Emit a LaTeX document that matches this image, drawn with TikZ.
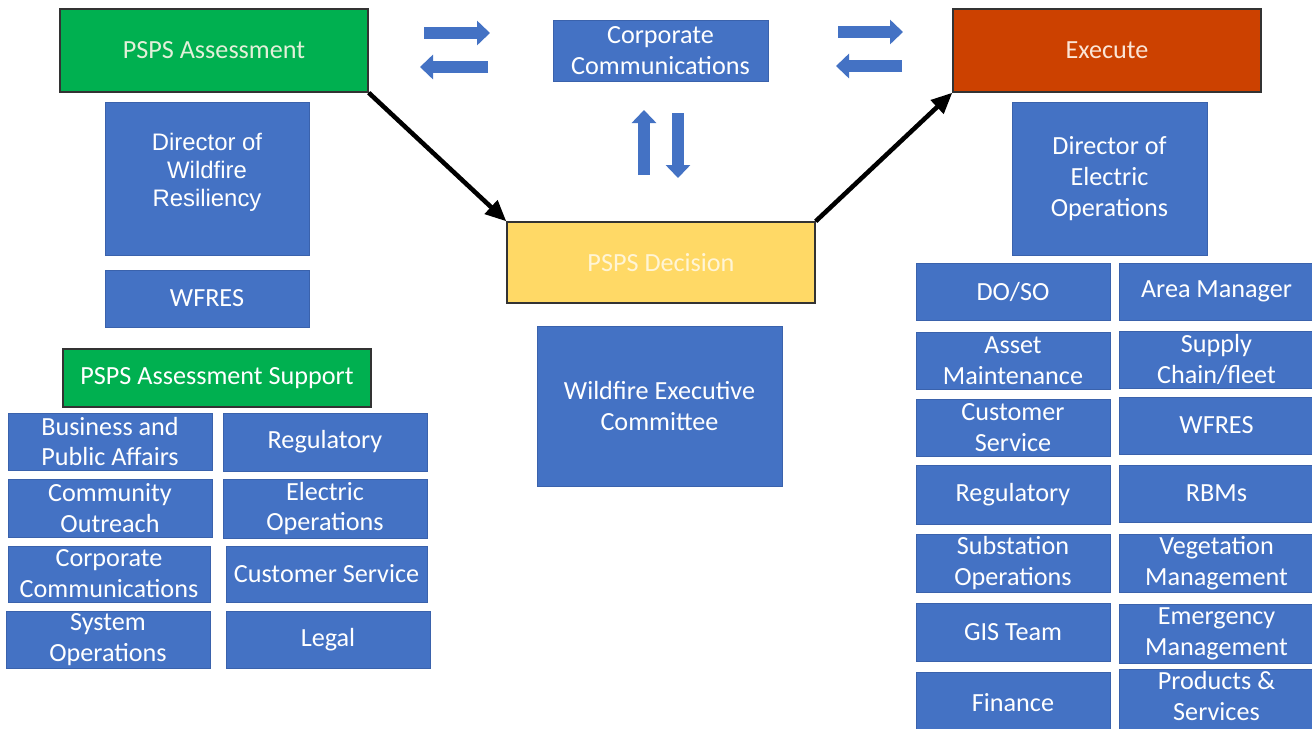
\documentclass[tikz,border=0pt]{standalone}
\usepackage{fontspec}
\setmainfont{Carlito}
\newfontfamily\arialfont{Liberation Sans}
\usetikzlibrary{arrows.meta}
\definecolor{boxblue}{HTML}{4472C4}
\definecolor{boxline}{HTML}{3A62AC}
\definecolor{assessgreen}{HTML}{00B050}
\definecolor{assesstext}{HTML}{E2F0D9}
\definecolor{decideyellow}{HTML}{FFD966}
\definecolor{decidetext}{HTML}{FFF5D6}
\definecolor{executered}{HTML}{CC4100}
\definecolor{executetext}{HTML}{FBE5D6}
\definecolor{headline}{HTML}{333333}

\begin{document}
\begin{tikzpicture}[x=0.02cm,y=-0.02cm,
  box/.style={rectangle,fill=boxblue,draw=boxline,line width=0.5pt,text=white,align=center,
    inner sep=1pt,font=\fontsize{14.9}{17.6}\selectfont},
  headbox/.style={box,draw=headline,line width=0.8pt},
  swap/.style={draw=boxblue,line width=0.23cm,-{Triangle[length=0.26cm,width=0.48cm]}},
  flow/.style={draw=black,line width=2.6pt,-{Triangle[length=0.42cm,width=0.36cm]}}]
\useasboundingbox (0,0) rectangle (1312,728);
\fill[white] (0,0) rectangle (1312,728);

\node[headbox,fill=assessgreen,text=assesstext,minimum width=6.16cm,minimum height=1.66cm] (assess) at (214,50.5) {PSPS Assessment};
\node[box,minimum width=4.08cm,minimum height=3.06cm,font=\arialfont\fontsize{13.6}{15.9}\selectfont] (dirwf) at (207,178.5) {Director of\\Wildfire\\Resiliency\\[-0.2cm]\mbox{}};
\node[box,minimum width=4.08cm,minimum height=1.14cm] (wfresl) at (207,298.5) {WFRES};
\node[headbox,fill=assessgreen,minimum width=6.16cm,minimum height=1.16cm] (support) at (217,378) {PSPS Assessment Support};

\node[box,minimum width=4.08cm,minimum height=1.14cm] (bpa) at (110,441.5) {Business and\\Public Affairs};
\node[box,minimum width=4.08cm,minimum height=1.16cm] (regl) at (325,442) {Regulatory};
\node[box,minimum width=4.08cm,minimum height=1.16cm] (outreach) at (110,508) {Community\\Outreach};
\node[box,minimum width=4.08cm,minimum height=1.18cm] (elecops) at (325,508.5) {Electric\\Operations};
\node[box,minimum width=4.04cm,minimum height=1.12cm] (corpcoml) at (109,574) {Corporate\\Communications};
\node[box,minimum width=4.02cm,minimum height=1.12cm] (custl) at (326.5,574) {Customer Service};
\node[box,minimum width=4.08cm,minimum height=1.14cm] (sysops) at (108,639.5) {System\\Operations};
\node[box,minimum width=4.08cm,minimum height=1.14cm] (legal) at (328,639.5) {Legal};

\node[box,minimum width=4.3cm,minimum height=1.22cm] (corpcom) at (660.5,50.5) {Corporate\\Communications};
\node[headbox,fill=decideyellow,text=decidetext,minimum width=6.16cm,minimum height=1.62cm] (decision) at (661,262.5) {PSPS Decision};
\node[box,minimum width=4.9cm,minimum height=3.2cm] (wec) at (659.5,406) {Wildfire Executive\\Committee};

\node[headbox,fill=executered,text=executetext,minimum width=6.16cm,minimum height=1.66cm] (execute) at (1107,50.5) {Execute};
\node[box,minimum width=3.9cm,minimum height=3.06cm] (direo) at (1109.5,178.5) {Director of\\Electric\\Operations};

\node[box,minimum width=3.88cm,minimum height=1.14cm] (doso) at (1013,291.5) {DO/SO};
\node[box,minimum width=3.9cm,minimum height=1.14cm] (areamgr) at (1216.5,291.5) {Area Manager};
\node[box,minimum width=3.88cm,minimum height=1.14cm] (asset) at (1013,360.5) {Asset\\Maintenance};
\node[box,minimum width=3.9cm,minimum height=1.14cm] (supply) at (1216.5,359.5) {Supply\\Chain/fleet};
\node[box,minimum width=3.88cm,minimum height=1.14cm] (custr) at (1013,427.5) {Customer\\Service};
\node[box,minimum width=3.9cm,minimum height=1.14cm] (wfresr) at (1216.5,425.5) {WFRES};
\node[box,minimum width=3.88cm,minimum height=1.18cm] (regr) at (1013,494.5) {Regulatory};
\node[box,minimum width=3.9cm,minimum height=1.14cm] (rbms) at (1216.5,493.5) {RBMs};
\node[box,minimum width=3.88cm,minimum height=1.16cm] (substn) at (1013,563) {Substation\\Operations};
\node[box,minimum width=3.9cm,minimum height=1.16cm] (veg) at (1216.5,563) {Vegetation\\Management};
\node[box,minimum width=3.88cm,minimum height=1.16cm] (gis) at (1013,632) {GIS Team};
\node[box,minimum width=3.9cm,minimum height=1.18cm] (emerg) at (1216.5,633.5) {Emergency\\Management};
\node[box,minimum width=3.88cm,minimum height=1.24cm] (finance) at (1013,703) {Finance};
\node[box,minimum width=3.9cm,minimum height=1.24cm] (products) at (1216.5,701) {Products \&\\Services\\[-0.4cm]\mbox{}};

\coordinate (ltoa) at (424,33);
\coordinate (ltob) at (490,33);
\coordinate (lfra) at (488,67);
\coordinate (lfrb) at (420,67);
\coordinate (rtoa) at (838,32);
\coordinate (rtob) at (903,32);
\coordinate (rfra) at (902,66);
\coordinate (rfrb) at (836,66);
\coordinate (upa) at (644,175);
\coordinate (upb) at (644,110);
\coordinate (dna) at (678,113);
\coordinate (dnb) at (678,178);
\draw[swap] (ltoa) -- (ltob);
\draw[swap] (lfra) -- (lfrb);
\draw[swap] (rtoa) -- (rtob);
\draw[swap] (rfra) -- (rfrb);
\draw[swap] (upa) -- (upb);
\draw[swap] (dna) -- (dnb);

\draw[flow] (assess.south east) -- (decision.north west);
\draw[flow] (decision.north east) -- (execute.south west);
\end{tikzpicture}
\end{document}
